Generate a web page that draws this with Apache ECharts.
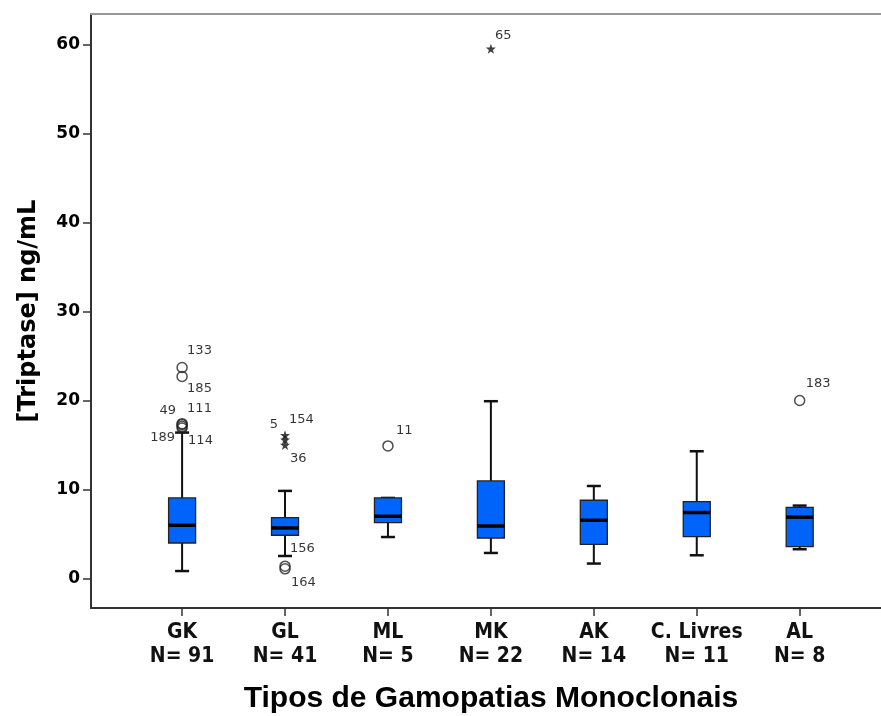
<!DOCTYPE html>
<html>
<head>
<meta charset="utf-8">
<script src="https://cdn.jsdelivr.net/npm/echarts@6/dist/echarts.min.js"></script>
<style>
html,body{margin:0;padding:0;background:#fff;}
#chart{width:881px;height:716px;}
</style>
</head>
<body>
<div id="chart"></div>
<script>
// ---- data ----
const categories = ['GK', 'GL', 'ML', 'MK', 'AK', 'C. Livres', 'AL'];
const counts = [91, 41, 5, 22, 14, 11, 8];
const whiskerLow  = [0.85, 2.54, 4.67, 2.88, 1.69, 2.62, 3.3];
const q1          = [4.0, 4.87, 6.29, 4.56, 3.85, 4.72, 3.6];
const medians     = [5.99, 5.69, 7.0, 5.91, 6.55, 7.42, 6.9];
const q3          = [9.06, 6.85, 9.06, 10.97, 8.8, 8.65, 8.0];
const whiskerHigh = [16.4, 9.85, 9.06, 19.92, 10.4, 14.3, 8.2];
// outliers: [category index, value, case label]
const outlierCircles = [
  [0, 23.7, '133'], [0, 22.7, '185'],
  [0, 17.4, '49'], [0, 17.3, '111'], [0, 17.1, '189'], [0, 16.9, '114'],
  [1, 1.4, '156'], [1, 1.1, '164'],
  [2, 14.9, '11'],
  [6, 20.0, '183']
];
const outlierStars = [
  [1, 16.1, '154'], [1, 15.6, '5'], [1, 15.0, '36'],
  [3, 59.5, '65']
];
const yTicks = [0, 10, 20, 30, 40, 50, 60];

// ---- label placement (style) ----
const labelPlacement = {
  '133': {align: 'left', dx: 5, dy: -17},
  '185': {align: 'left', dx: 5, dy: 12},
  '49':  {align: 'right', dx: -6, dy: -13},
  '111': {align: 'left', dx: 5, dy: -16},
  '189': {align: 'right', dx: -7, dy: 11},
  '114': {align: 'left', dx: 6, dy: 13},
  '154': {align: 'left', dx: 4, dy: -16},
  '5':   {align: 'right', dx: -7, dy: -15},
  '36':  {align: 'left', dx: 5, dy: 14},
  '156': {align: 'left', dx: 5, dy: -18},
  '164': {align: 'left', dx: 6, dy: 14},
  '11':  {align: 'left', dx: 8, dy: -15},
  '65':  {align: 'left', dx: 4, dy: -13},
  '183': {align: 'left', dx: 6, dy: -17}
};

const boxData = categories.map((c, i) => [i, whiskerLow[i], q1[i], medians[i], q3[i], whiskerHigh[i]]);
const catIdx = categories.map((c, i) => i);

function outlierItems(list) {
  return list.map(o => {
    const p = labelPlacement[o[2]];
    return {
      value: [o[0], o[1]],
      name: o[2],
      label: {align: p.align, offset: [p.dx, p.dy]}
    };
  });
}

const starPath = 'path://M100,0 L123.5,67.6 L195.1,69.1 L138,112.4 L158.8,180.9 L100,140 L41.2,180.9 L62,112.4 L4.9,69.1 L76.5,67.6 Z';

const labelCommon = {
  show: true,
  position: 'inside',
  verticalAlign: 'middle',
  color: '#000',
  fontFamily: 'DejaVu Sans',
  fontSize: 13,
  formatter: p => p.name
};

const chart = echarts.init(document.getElementById('chart'), null, {renderer: 'canvas'});
const xMin = -0.885, xMax = 6.79;

chart.setOption({
  animation: false,
  grid: {left: 91, right: 0, top: 14, bottom: 108, outerBoundsMode: 'none', containLabel: false},
  xAxis: [{
    type: 'value',
    min: xMin, max: xMax,
    name: 'Tipos de Gamopatias Monoclonais',
    nameLocation: 'middle',
    nameGap: 76,
    nameTextStyle: {fontFamily: 'Liberation Sans', fontWeight: 'bold', fontSize: 30, color: '#000', padding: [0, 0, 0, 10]},
    splitLine: {show: false},
    axisLine: {show: true, onZero: false, lineStyle: {color: '#333', width: 2}},
    axisTick: {show: true, customValues: catIdx, length: 8, lineStyle: {color: '#333', width: 1.5}},
    axisLabel: {
      customValues: catIdx,
      margin: 13,
      formatter: v => categories[Math.round(v)] + '\nN= ' + counts[Math.round(v)],
      fontFamily: 'DejaVu Sans Condensed',
      fontWeight: 'bold',
      fontSize: 21,
      lineHeight: 24,
      color: '#111'
    }
  }, {
    type: 'value',
    position: 'top',
    min: xMin, max: xMax,
    splitLine: {show: false},
    axisLine: {show: true, onZero: false, lineStyle: {color: '#999', width: 2}},
    axisTick: {show: false},
    axisLabel: {show: false}
  }],
  yAxis: {
    type: 'value',
    min: -3.3, max: 63.4,
    name: '[Triptase] ng/mL',
    nameLocation: 'middle',
    nameGap: 50,
    nameTextStyle: {fontFamily: 'DejaVu Sans', fontWeight: 'bold', fontSize: 24, color: '#000'},
    splitLine: {show: false},
    axisLine: {show: true, onZero: false, lineStyle: {color: '#333', width: 2}},
    axisTick: {show: true, customValues: yTicks, length: 8, lineStyle: {color: '#333', width: 1.5}},
    axisLabel: {
      customValues: yTicks,
      margin: 11,
      fontFamily: 'DejaVu Sans',
      fontWeight: 'bold',
      fontSize: 17,
      color: '#000'
    }
  },
  series: [{
    type: 'custom',
    xAxisIndex: 0,
    data: boxData,
    encode: {x: 0, y: [1, 2, 3, 4, 5]},
    renderItem: function (params, api) {
      const x = api.value(0);
      const pLo = api.coord([x, api.value(1)]);
      const pQ1 = api.coord([x, api.value(2)]);
      const pMed = api.coord([x, api.value(3)]);
      const pQ3 = api.coord([x, api.value(4)]);
      const pHi = api.coord([x, api.value(5)]);
      const cx = pMed[0];
      const hw = 13.5, cw = 7;
      const lineStyle = {stroke: '#111', lineWidth: 2};
      return {
        type: 'group',
        children: [
          {type: 'line', shape: {x1: cx, y1: pQ3[1], x2: cx, y2: pHi[1]}, style: lineStyle},
          {type: 'line', shape: {x1: cx, y1: pQ1[1], x2: cx, y2: pLo[1]}, style: lineStyle},
          {type: 'line', shape: {x1: cx - cw, y1: pHi[1], x2: cx + cw, y2: pHi[1]}, style: {stroke: '#111', lineWidth: 2.5}},
          {type: 'line', shape: {x1: cx - cw, y1: pLo[1], x2: cx + cw, y2: pLo[1]}, style: {stroke: '#111', lineWidth: 2.5}},
          {type: 'rect', shape: {x: cx - hw, y: pQ3[1], width: hw * 2, height: pQ1[1] - pQ3[1]},
            style: {fill: '#0064fa', stroke: '#222', lineWidth: 1.3}},
          {type: 'line', shape: {x1: cx - hw, y1: pMed[1], x2: cx + hw, y2: pMed[1]}, style: {stroke: '#000', lineWidth: 3.5}}
        ]
      };
    },
    z: 2
  }, {
    type: 'scatter',
    xAxisIndex: 0,
    symbol: 'circle',
    symbolSize: 10,
    itemStyle: {color: 'rgba(0,0,0,0)', borderColor: '#222', borderWidth: 1.5},
    label: labelCommon,
    data: outlierItems(outlierCircles),
    z: 3
  }, {
    type: 'scatter',
    xAxisIndex: 0,
    symbol: starPath,
    symbolSize: 10,
    itemStyle: {color: '#111'},
    label: labelCommon,
    data: outlierItems(outlierStars),
    z: 3
  }]
});
</script>
</body>
</html>
